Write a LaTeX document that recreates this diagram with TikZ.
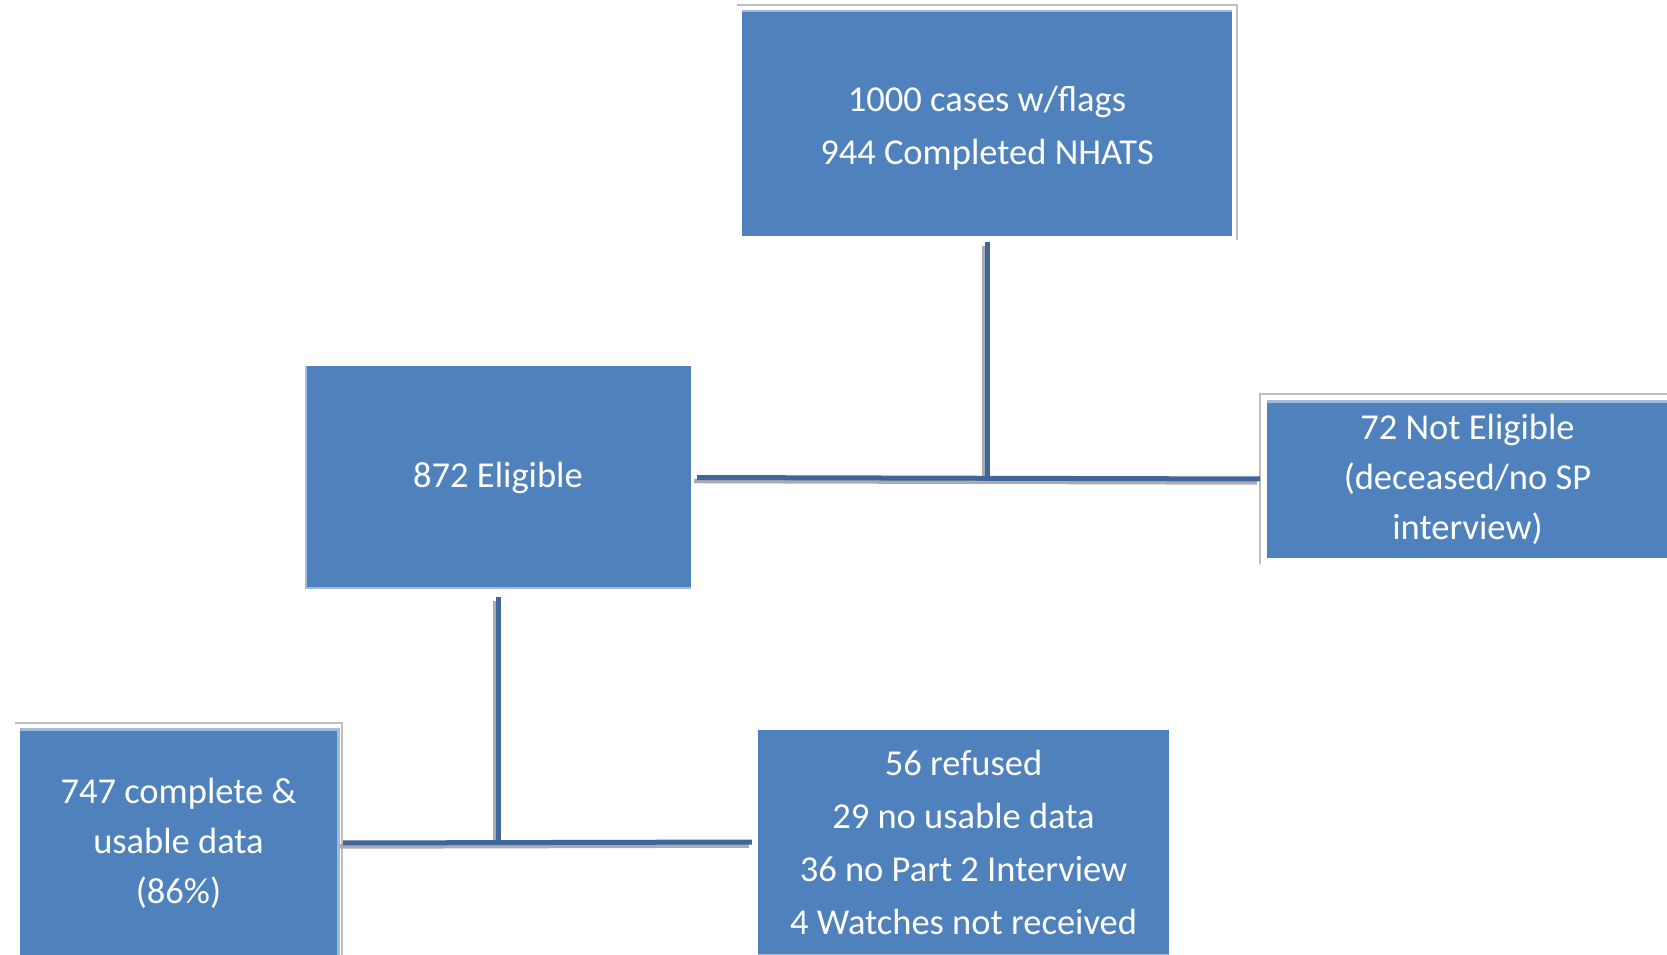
\documentclass[tikz,border=0pt]{standalone}
\usepackage{fontspec}
\setmainfont{Carlito}
\definecolor{boxblue}{RGB}{79,129,189}
\definecolor{edgeblue}{RGB}{160,187,220}
\definecolor{linkblue}{RGB}{62,102,156}
\definecolor{shade}{RGB}{170,170,176}
\definecolor{framegray}{RGB}{190,190,190}
\tikzset{
  stagebox/.style={rectangle, fill=boxblue, draw=none, inner sep=0pt,
    text=white, align=center, font=\fontsize{36.5}{53}\selectfont},
  link/.style={draw=linkblue, line width=5pt,
    preaction={draw=shade, line width=4.5pt, transform canvas={xshift=-3pt, yshift=-3.5pt}}},
  frame/.style={draw=framegray, line width=2.5pt},
  rim/.style={draw=edgeblue, line width=2.5pt}
}
\begin{document}
\begin{tikzpicture}[x=1pt, y=-1pt]
  \useasboundingbox[fill=white] (0,0) rectangle (1667,955);

  % stages of the sample
  \node[stagebox, minimum width=490pt, minimum height=226pt] (top) at (987,123)
    {\rule{0pt}{36pt}1000 cases w/flags\\944 Completed NHATS};
  \node[stagebox, minimum width=386pt, minimum height=223pt] (elig) at (498,477.5)
    {872 Eligible};
  \node[stagebox, minimum width=401pt, minimum height=158pt,
        font=\fontsize{36.5}{50}\selectfont] (nelig) at (1467.5,479)
    {72 Not Eligible\\(deceased/no SP\\interview)};
  \node[stagebox, minimum width=317pt, minimum height=230pt,
        font=\fontsize{36.5}{50}\selectfont] (usable) at (178.5,843)
    {747 complete \&\\usable data\\(86\%)};
  \node[stagebox, minimum width=411pt, minimum height=224pt] (lost) at (963.5,842)
    {56 refused\\29 no usable data\\36 no Part 2 Interview\\4 Watches not received};

  % thin frames and light rims around the boxes
  \draw[rim] ([yshift=-1pt]top.north west) -- ([yshift=-1pt]top.north east);
  \draw[frame] ([shift={(-5,-5)}]top.north west) -- ([shift={(5,-5)}]top.north east)
    -- ([shift={(5,4)}]top.south east);
  \draw[rim] ([xshift=1pt]elig.north west) -- ([xshift=1pt]elig.south west);
  \draw[rim] ([yshift=1pt]elig.south west) -- ([yshift=1pt]elig.south east);
  \draw[rim] ([yshift=-1.5pt]nelig.north west) -- ([yshift=-1.5pt]nelig.north east);
  \draw[frame] ([shift={(-7,6)}]nelig.south west) -- ([shift={(-7,-6)}]nelig.north west)
    -- ([shift={(1,-6)}]nelig.north east);
  \draw[rim] ([yshift=-1.5pt]usable.north west) -- ([yshift=-1.5pt]usable.north east);
  \draw[rim] ([xshift=1.5pt]usable.north east) -- ([xshift=1.5pt]usable.south east);
  \draw[frame] ([shift={(-5,-5)}]usable.north west) -- ([shift={(5,-5)}]usable.north east)
    -- ([shift={(5,0)}]usable.south east);
  \draw[rim] ([yshift=-1pt]lost.south west) -- ([yshift=-1pt]lost.south east);

  % junction points
  \coordinate (j1) at (top.south |- elig.east);
  \coordinate (j2) at (elig.south |- usable.east);

  % connectors
  \draw[link, shorten <=6pt] (top.south) -- ([yshift=2pt]j1);
  \draw[link, shorten <=6pt, shorten >=7pt] (elig.east) -- (nelig.west);
  \draw[link, shorten <=8pt] (elig.south) -- ([yshift=2pt]j2);
  \draw[link, shorten <=6pt, shorten >=6pt] (usable.east) -- (lost.west);
\end{tikzpicture}
\end{document}
